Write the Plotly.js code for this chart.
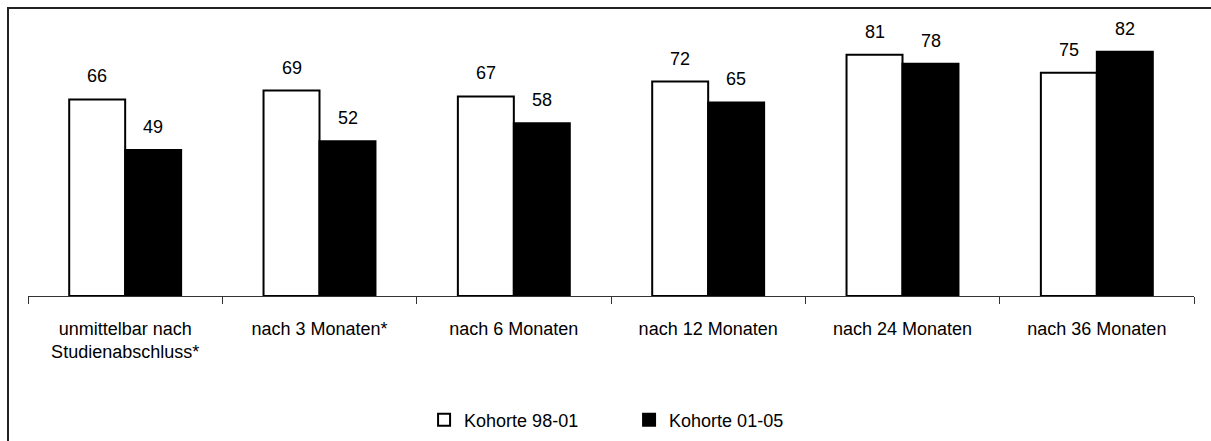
<!DOCTYPE html>
<html>
<head>
<meta charset="utf-8">
<script src="https://cdn.plot.ly/plotly-3.0.1.min.js"></script>
<style>
html,body{margin:0;padding:0;background:#fff;}
#wrap{position:relative;width:1211px;height:441px;overflow:hidden;}
#chart{position:absolute;left:0;top:0;width:1211px;height:441px;}
#frame{position:absolute;left:7px;top:7px;right:-5px;bottom:-5px;border-left:2px solid #222;border-top:2px solid #222;pointer-events:none;}
</style>
</head>
<body>
<div id="wrap"><div id="chart"></div><div id="frame"></div></div>
<script>
const categories = ["unmittelbar nach<br>Studienabschluss*", "nach 3 Monaten*", "nach 6 Monaten", "nach 12 Monaten", "nach 24 Monaten", "nach 36 Monaten"];
const seriesNames = ["Kohorte 98-01", "Kohorte 01-05"];
const kohorte9801 = [66, 69, 67, 72, 81, 75];
const kohorte0105 = [49, 52, 58, 65, 78, 82];

const font = "Liberation Sans, Arial, sans-serif";

const traces = [
  {type:"bar", name:seriesNames[0], x:categories, y:kohorte9801,
   marker:{color:"#ffffff", line:{color:"#000000", width:2}}, hoverinfo:"skip"},
  {type:"bar", name:seriesNames[1], x:categories, y:kohorte0105,
   marker:{color:"#000000", line:{color:"#000000", width:2}}, hoverinfo:"skip"}
];

const annotations = [];
[kohorte9801, kohorte0105].forEach((vals, s) => {
  vals.forEach((v, i) => {
    annotations.push({x:categories[i], y:v, xref:"x", yref:"y", text:String(v),
      showarrow:false, yanchor:"bottom", xshift: s === 0 ? -28 : 28, yshift:11,
      font:{family:font, size:18, color:"#000"}});
  });
});

const layout = {
  width:1211, height:441,
  margin:{l:28, r:17, t:28, b:145, autoexpand:false},
  paper_bgcolor:"rgba(0,0,0,0)", plot_bgcolor:"rgba(0,0,0,0)",
  barmode:"group", bargap:0.424, bargroupgap:0,
  font:{family:font, size:18, color:"#000"},
  xaxis:{type:"category", automargin:false, showline:true, linecolor:"#333", linewidth:1,
    ticks:"outside", tickson:"boundaries", ticklen:7, tickcolor:"#333", tickwidth:1,
    tickfont:{family:font, size:18, color:"#000"}, ticklabelstandoff:16, showgrid:false, zeroline:false},
  yaxis:{range:[0,90], visible:false, showgrid:false, zeroline:false, automargin:false},
  showlegend:true,
  legend:{orientation:"h", x:0.5155, xanchor:"center", xref:"paper", yref:"container", y:0.0476, yanchor:"middle",
    font:{family:font, size:18, color:"#000"}, entrywidth:160, entrywidthmode:"pixels",
    itemwidth:30, traceorder:"normal"},
  annotations:annotations
};

Plotly.newPlot("chart", traces, layout, {displayModeBar:false, staticPlot:true});
</script>
</body>
</html>
